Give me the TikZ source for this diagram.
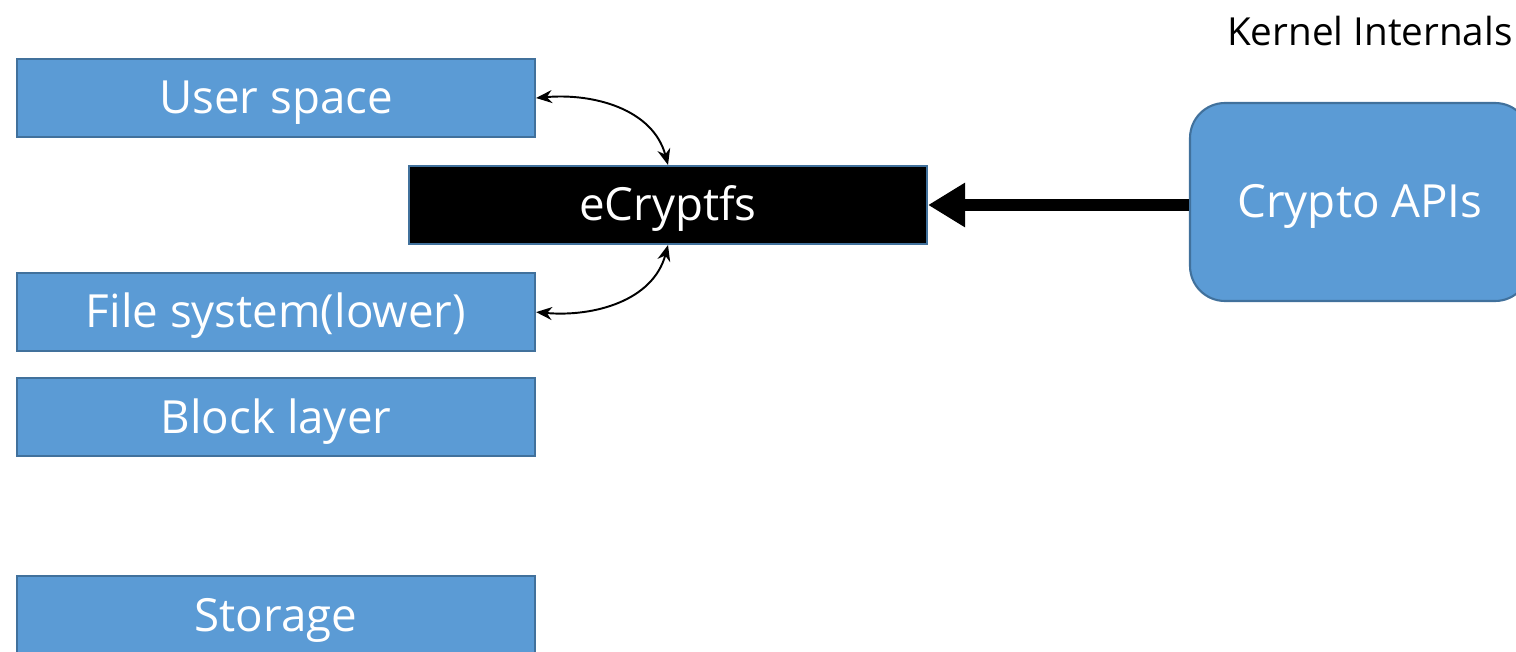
\documentclass[tikz,border=0pt]{standalone}
\usepackage{fontspec}
\setmainfont{Open Sans}
\usetikzlibrary{positioning, arrows.meta}
\definecolor{layerfill}{HTML}{5B9BD5}
\definecolor{layerline}{HTML}{41719C}

\begin{document}
\begin{tikzpicture}[node distance=2.7cm,
      every node/.style={align=center, inner sep=0pt},
      layer/.style={draw=layerline, line width=1.2pt, fill=layerfill, text=white,
        font=\fontsize{26}{30}\selectfont, text height=18pt, text depth=0pt,
        minimum width=10.36cm, minimum height=1.56cm},
      biarrow/.style={{Stealth[length=3.2mm, width=2.6mm]}-{Stealth[length=3.2mm, width=2.6mm]}, line width=1.1pt}]
    \clip (0,0) rectangle (30.32,-13.02);
    \node[layer] (user) at (5.52,-1.96) {User space};
    \node[layer, below=2.68cm of user] (lowerfs) {File system(lower)};
    \node[layer, below=0.5cm of lowerfs] (block) {Block layer};
    \node[layer, below=2.36cm of block] (storage) {Storage};
    \node[layer, fill=black] (ecrypt) at (13.36,-4.10) {eCryptfs};
    \node[layer, rounded corners=0.7cm, minimum width=6.8cm, minimum height=3.96cm] (crypto) at (27.2,-4.04) {Crypto APIs};
    \node[anchor=east, font=\fontsize{22}{26}\selectfont] (kernel) at (30.26,-0.62) {Kernel Internals};
    \draw[biarrow] (user.east) to[out=5, in=105] (ecrypt.north);
    \draw[biarrow] (ecrypt.south) to[out=-105, in=-5] (lowerfs.east);
    \draw[-{Triangle[length=0.74cm, width=0.84cm]}, line width=0.24cm] (crypto.west |- ecrypt.east) -- (ecrypt.east);
  \end{tikzpicture}
\end{document}
